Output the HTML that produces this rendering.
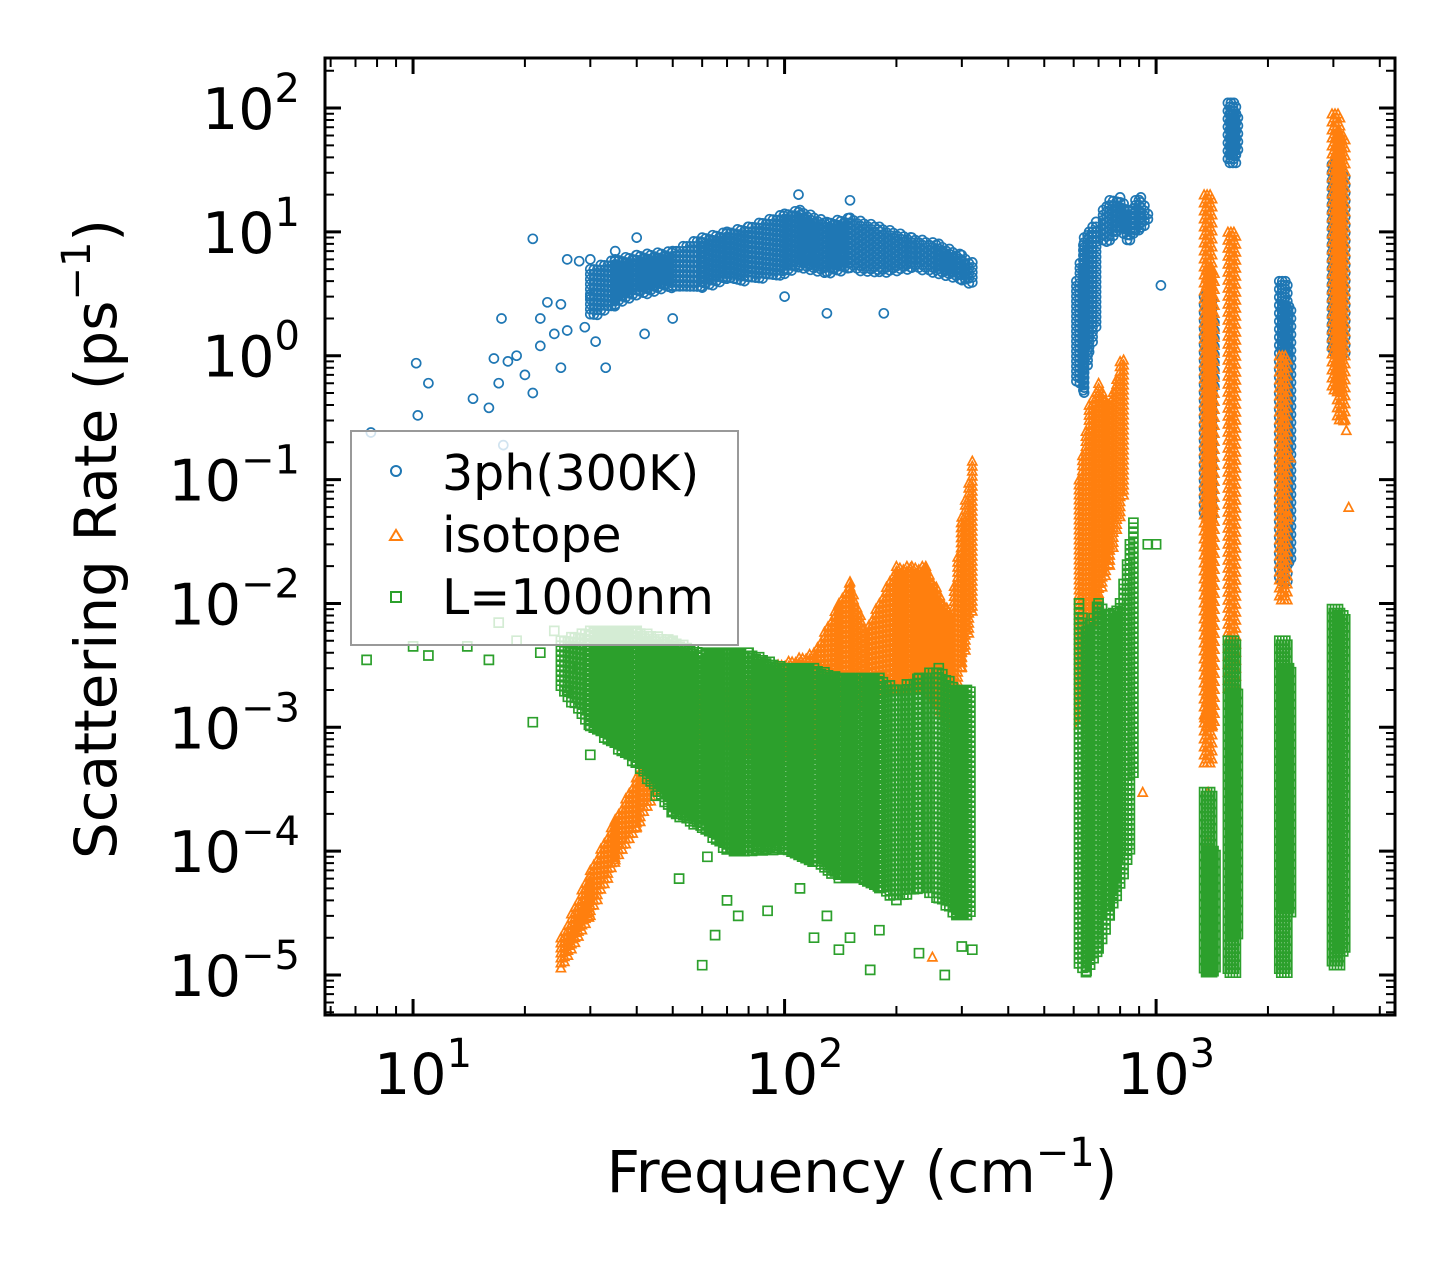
<!DOCTYPE html>
<html><head><meta charset="utf-8"><style>
html,body{margin:0;padding:0;background:#fff;}
svg{display:block;font-family:"DejaVu Sans","Liberation Sans",sans-serif;}
</style></head><body>
<svg id="chart" width="1455" height="1265" viewBox="0 0 1455 1265" xmlns="http://www.w3.org/2000/svg">
<rect width="1455" height="1265" fill="#fff"/>
<g id="marks"></g>
<g id="axes"></g>
<g id="legend">
<rect x="351" y="431" width="387" height="214" fill="#fff" fill-opacity="0.8" stroke="#999" stroke-width="2"/>
<circle cx="396" cy="471" r="5" fill="none" stroke="#1f77b4" stroke-width="2"/>
<text x="442" y="490" font-size="49">3ph(300K)</text>
<path d="M390,540 L396,530 L402,540 Z" fill="none" stroke="#ff7f0e" stroke-width="2"/>
<text x="442" y="552" font-size="49">isotope</text>
<rect x="391" y="592" width="10" height="10" fill="none" stroke="#2ca02c" stroke-width="2"/>
<text x="442" y="614" font-size="49">L=1000nm</text>
</g>
<text x="862" y="1192" font-size="58" text-anchor="middle">Frequency (cm<tspan dy="-26" font-size="40">−1</tspan><tspan dy="26">)</tspan></text>
<text transform="translate(116,539) rotate(-90)" font-size="58" text-anchor="middle">Scattering Rate (ps<tspan dy="-26" font-size="40">−1</tspan><tspan dy="26">)</tspan></text>
</svg>
<script>
// axis domains (log10)
const xDomain = [0.763, 3.643];
const yDomain = [-5.323, 2.404];
const xTickExps = [1, 2, 3];
const yTickExps = [-5, -4, -3, -2, -1, 0, 1, 2];
// blue: 3-phonon scattering
const blueScatter = [[7.7,0.24],[10.2,0.87],[10.3,0.33],[11,0.6],[14.5,0.45],[16,0.38],[16.5,0.95],[17,0.6],[17.3,2],[17.5,0.19],[18,0.9],[19,1],[20,0.7],[21,0.5],[21,8.8],[22,1.2],[22,2],[23,2.7],[24,1.5],[25,2.6],[25,0.8],[26,6],[26,1.6],[28,5.8],[29,1.7],[30,6],[30,3],[31,1.3],[33,0.8],[35,7],[40,9],[42,1.5],[50,2],[100,3],[109,20],[130,2.2],[150,18],[185,2.2],[1030,3.7]];
const blueBands = [
 [[30,2,5],[35,2.5,6],[40,3,6.5],[50,3.5,7],[60,3.5,9],[70,4,10],[80,4,11],[100,4.5,14],[110,5,15],[130,4.5,12],[150,5,13],[180,4.5,11],[220,5,9],[260,4.5,8],[300,4,6.5],[325,3.5,5.5]],
 [[610,0.6,4],[640,0.5,9],[660,1,10],[700,2,14]],
 [[720,8,15],[750,8,18],[800,10,19],[850,8,15],[870,9,16]],
 [[880,10,18],[910,10,19],[960,12,14]],
 [[1380,0.05,3]],[[1400,0.5,2]],[[1600,35,110]],[[1620,40,90]],
 [[2200,0.015,4]],[[2250,0.02,2.5]],[[3050,1,35]],[[3150,1,30]]
];
// orange: isotope
const orangeScatter = [[920,3e-4],[1380,3e-4],[1600,0.3],[2200,0.3],[250,1.4e-5],[1350,1.2e-3],[3200,0.3],[3300,0.06],[1420,0.06],[2270,0.05],[1380,1.2e-4],[1600,5e-3],[2300,0.15],[3250,0.25]];
const orangeBands = [
 [[25,1.1e-5,2e-5],[30,3e-5,7e-5],[35,8e-5,1.8e-4],[40,1.5e-4,4e-4],[45,3e-4,8e-4],[50,5e-4,1.5e-3],[60,8e-4,2e-3],[70,7e-4,2e-3],[90,5e-4,3e-3],[120,6e-4,4e-3],[140,1e-3,1e-2],[150,1.5e-3,1.5e-2],[165,1.5e-3,6e-3],[200,2e-3,2e-2],[220,2e-3,2e-2],[240,2e-3,2e-2],[280,1e-3,8e-3],[300,3e-3,5e-2],[325,1e-2,1.8e-1]],
 [[620,1e-3,0.1],[660,5e-3,0.4],[700,0.01,0.6],[750,0.02,0.4],[800,0.05,0.9],[830,0.1,1]],
 [[1380,5e-4,20]],[[1400,1e-3,5]],[[1600,2e-3,10]],[[2200,0.01,1]],[[3050,0.5,90]],[[3150,0.3,60]]
];
// green: boundary L=1000nm
const greenScatter = [[7.5,3.5e-3],[10,4.5e-3],[11,3.8e-3],[14,4.5e-3],[16,3.5e-3],[17,7e-3],[19,5e-3],[21,1.1e-3],[22,4e-3],[24,6e-3],[26,2e-3],[28,3e-3],[30,6e-4],[35,1.6e-3],[45,2.8e-4],[52,6e-5],[60,1.2e-5],[62,9e-5],[65,2.1e-5],[70,4e-5],[75,3e-5],[90,3.3e-5],[110,5e-5],[120,2e-5],[130,3e-5],[140,1.6e-5],[150,2e-5],[170,1.1e-5],[180,2.3e-5],[230,1.5e-5],[270,1e-5],[300,1.7e-5],[320,1.6e-5],[1000,0.03],[950,0.03]];
const greenBands = [
 [[25,2e-3,5e-3],[30,1e-3,6e-3],[40,5e-4,6e-3],[50,2e-4,5e-3],[60,1.5e-4,4e-3],[70,1e-4,4e-3],[80,1e-4,4e-3],[100,1e-4,3e-3],[120,8e-5,3e-3],[140,6e-5,2.5e-3],[160,6e-5,2.5e-3],[180,5e-5,2.5e-3],[200,4e-5,2e-3],[230,5e-5,2.5e-3],[260,4e-5,3e-3],[290,3e-5,2e-3],[320,3e-5,2e-3]],
 [[620,1.2e-5,0.01],[650,1e-5,6e-3],[700,1.5e-5,0.01],[750,3e-5,8e-3],[800,5e-5,0.01],[850,1e-4,0.03],[880,1e-3,0.06]],
 [[1380,1e-5,3e-4]],[[1410,1e-5,1e-4]],[[1600,1e-5,5e-3]],[[1620,2e-5,2e-3]],[[2200,1e-5,5e-3]],[[2250,3e-5,3e-3]],[[3050,1.2e-5,9e-3]],[[3150,1.5e-5,8e-3]]
];

const L=325,R=1395,T=58,B=1015;
const xs=v=>L+(Math.log10(v)-xDomain[0])/(xDomain[1]-xDomain[0])*(R-L);
const ys=v=>B-(Math.log10(v)-yDomain[0])/(yDomain[1]-yDomain[0])*(B-T);
const NS="http://www.w3.org/2000/svg";
const marks=document.getElementById('marks');
const axes=document.getElementById('axes');
const r1=v=>Math.round(v*10)/10;

function shape(kind,x,y){
  x=r1(x);y=r1(y);
  if(kind==='c') return `M${r1(x-4.5)},${y}a4.5,4.5 0 1,0 9,0a4.5,4.5 0 1,0 -9,0`;
  if(kind==='t') return `M${r1(x-4.5)},${r1(y+4)}l4.5,-8.5l4.5,8.5z`;
  return `M${r1(x-4.5)},${r1(y-4.5)}h9v9h-9z`;
}
function bandPts(bands){
  const pts=[];
  bands.forEach(seg=>{
    if(seg.length===1){
      const [f,lo,hi]=seg[0];const cx=xs(f);
      for(let dx=-3;dx<=3;dx+=3){let k=0;
        for(let y=ys(hi);y<=ys(lo);y+=4){pts.push([cx+dx+((k++%2)?1:-1),y]);}}
      return;
    }
    for(let i=0;i<seg.length-1;i++){
      const a=seg[i],b=seg[i+1];const x0=xs(a[0]),x1=xs(b[0]);
      let col=0;
      for(let x=x0;x<x1;x+=3.5){
        const t=(x-x0)/(x1-x0);
        const yh=ys(a[2])+(ys(b[2])-ys(a[2]))*t;
        const yl=ys(a[1])+(ys(b[1])-ys(a[1]))*t;
        const off=(col++%3)*1.7;
        for(let y=yh+off;y<=yl;y+=5) pts.push([x,y]);
      }
    }
  });
  return pts;
}
function drawSeries(name,kind,color,scatter,bands){
  let d='';
  bandPts(bands).forEach(p=>{d+=shape(kind,p[0],p[1]);});
  scatter.forEach(p=>{d+=shape(kind,xs(p[0]),ys(p[1]));});
  const path=document.createElementNS(NS,'path');
  path.setAttribute('d',d);
  path.setAttribute('fill','none');path.setAttribute('stroke',color);path.setAttribute('stroke-width','1.7');
  
  
  marks.appendChild(path);
}
drawSeries('series-3ph','c','#1f77b4',blueScatter,blueBands);
drawSeries('series-isotope','t','#ff7f0e',orangeScatter,orangeBands);
drawSeries('series-boundary','s','#2ca02c',greenScatter,greenBands);

const frame=document.createElementNS(NS,'rect');
frame.setAttribute('x',L);frame.setAttribute('y',T);frame.setAttribute('width',R-L);frame.setAttribute('height',B-T);
frame.setAttribute('fill','none');frame.setAttribute('stroke','#000');frame.setAttribute('stroke-width','3');


axes.appendChild(frame);
let td='',tm='';
for(let e=0;e<=4;e++){for(let m=1;m<=9;m++){
  const v=m*Math.pow(10,e);const x=xs(v);if(x<L||x>R)continue;
  const len=m===1?16:9;const s=`M${x},${B}v${-len}M${x},${T}v${len}`;
  if(m===1)td+=s;else tm+=s;}}
for(let e=-6;e<=2;e++){for(let m=1;m<=9;m++){
  const v=m*Math.pow(10,e);const y=ys(v);if(y<T||y>B)continue;
  const len=m===1?16:9;const s=`M${L},${y}h${len}M${R},${y}h${-len}`;
  if(m===1)td+=s;else tm+=s;}}
[[td,3,'major-ticks'],[tm,2,'minor-ticks']].forEach(([d,w,n])=>{
  const p=document.createElementNS(NS,'path');p.setAttribute('d',d);p.setAttribute('stroke','#000');p.setAttribute('stroke-width',w);
  
  
  axes.appendChild(p);});
xTickExps.forEach(e=>{
  const t=document.createElementNS(NS,'text');
  t.setAttribute('x',xs(Math.pow(10,e))+10);t.setAttribute('y',1094);t.setAttribute('font-size','57');t.setAttribute('text-anchor','middle');
  t.innerHTML=`10<tspan dy="-27" font-size="40">${e}</tspan>`;
  
  
  axes.appendChild(t);});
yTickExps.forEach(e=>{
  const t=document.createElementNS(NS,'text');
  t.setAttribute('x',300);t.setAttribute('y',ys(Math.pow(10,e))+21);t.setAttribute('font-size','57');t.setAttribute('text-anchor','end');
  t.innerHTML=`10<tspan dy="-27" font-size="40">${e<0?'−'+(-e):e}</tspan>`;
  
  
  axes.appendChild(t);});
</script>
</body></html>
